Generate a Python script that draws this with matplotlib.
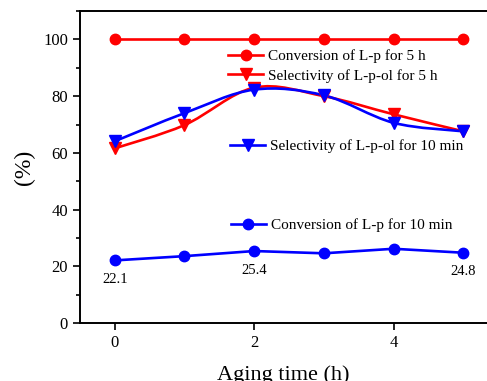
import numpy as np
import matplotlib.pyplot as plt
from matplotlib.path import Path
from matplotlib.patches import PathPatch
from matplotlib.ticker import MultipleLocator

plt.rcParams['font.family'] = ['Liberation Serif', 'DejaVu Serif']

# aging time (h)
t = [0, 1, 2, 3, 4, 5]
# conversion / selectivity (%)
conv_5h = [100, 100, 100, 100, 100, 100]
sel_5h = [61.6, 69.8, 83.0, 80.0, 73.6, 67.6]
sel_10min = [64.1, 74.0, 82.3, 80.3, 70.6, 67.6]
conv_10min = [22.1, 23.6, 25.4, 24.6, 26.2, 24.8]
labels = ["Conversion of L-p for 5 h", "Selectivity of L-p-ol for 5 h",
          "Selectivity of L-p-ol for 10 min", "Conversion of L-p for 10 min"]
notes = [(0, 22.1, "22.1"), (2, 25.4, "25.4"), (5, 24.8, "24.8")]


def smooth_path(x, y):
    # Catmull-Rom style bezier through the data points
    x = np.asarray(x, float)
    y = np.asarray(y, float)
    verts = [(x[0], y[0])]
    codes = [Path.MOVETO]
    n = len(x)
    for i in range(n - 1):
        p0 = (x[max(i - 1, 0)], y[max(i - 1, 0)])
        p1 = (x[i], y[i])
        p2 = (x[i + 1], y[i + 1])
        p3 = (x[min(i + 2, n - 1)], y[min(i + 2, n - 1)])
        c1 = (p1[0] + (p2[0] - p0[0]) / 6, p1[1] + (p2[1] - p0[1]) / 6)
        c2 = (p2[0] - (p3[0] - p1[0]) / 6, p2[1] - (p3[1] - p1[1]) / 6)
        verts += [c1, c2, p2]
        codes += [Path.CURVE4] * 3
    return Path(verts, codes)


fig = plt.figure(figsize=(4.87, 3.81), dpi=100)
ax = fig.add_axes([0.164, 0.152, 0.836, 0.819])

lw = 1.9
l1, = ax.plot(t, conv_5h, '-o', color='red', lw=lw, ms=7.5)
l2, = ax.plot(t, sel_5h, 'v', color='red', ms=8.5)
ax.add_patch(PathPatch(smooth_path(t, sel_5h), fc='none', ec='red', lw=lw))
l3, = ax.plot(t, sel_10min, 'v', color='blue', ms=8.5)
ax.add_patch(PathPatch(smooth_path(t, sel_10min), fc='none', ec='blue', lw=lw))
l4, = ax.plot(t, conv_10min, '-o', color='blue', lw=lw, ms=7.5)

h2 = plt.Line2D([], [], color='red', marker='v', lw=lw, ms=8.5)
h3 = plt.Line2D([], [], color='blue', marker='v', lw=lw, ms=8.5)

for h, lab, pos in [(l1, labels[0], (0.364, 0.856)), (h2, labels[1], (0.364, 0.792)),
                    (h3, labels[2], (0.369, 0.567)), (l4, labels[3], (0.371, 0.314))]:
    leg = ax.legend([h], [lab], loc='center left', bbox_to_anchor=pos, frameon=False,
                    fontsize=11, handlelength=2.3, handletextpad=0.3,
                    borderpad=0, borderaxespad=0)
    ax.add_artist(leg)
ax.legend_ = None

for x, y, s in notes:
    ax.annotate(s, (x, y), xytext=(0, -9), textcoords='offset points',
                ha='center', va='top', fontsize=10.5)

ax.set_xlim(-0.5, 5.34)
ax.set_ylim(0, 110)
ax.set_xticks([0, 2, 4])
ax.yaxis.set_major_locator(MultipleLocator(20))
ax.yaxis.set_minor_locator(MultipleLocator(10))
ax.tick_params(direction='out', labelsize=12, width=1.2, length=5)
ax.tick_params(which='minor', direction='out', width=1.2, length=3)
for s in ['left', 'bottom', 'top']:
    ax.spines[s].set_linewidth(1.4)
ax.spines['right'].set_visible(False)
ax.set_xlabel("Aging time (h)", fontsize=16, labelpad=10)
ax.set_ylabel("(%)", fontsize=17, labelpad=6)

fig.savefig("out.png", dpi=100)
